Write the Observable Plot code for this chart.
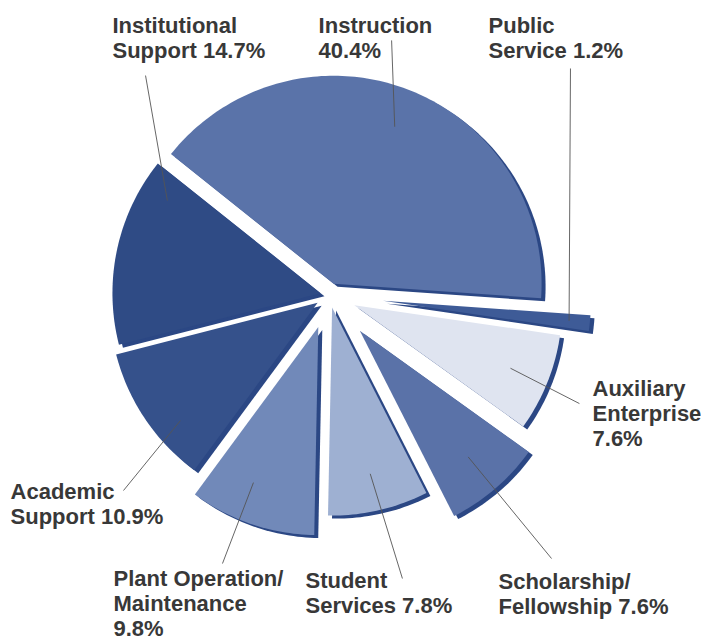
<!DOCTYPE html>
<html>
<head>
<meta charset="utf-8">
<script src="https://cdn.jsdelivr.net/npm/d3@7"></script>
<script src="https://cdn.jsdelivr.net/npm/@observablehq/plot@0.6"></script>
<style>
  html, body { margin: 0; padding: 0; background: #fff; }
  #chart svg { display: block; }
</style>
</head>
<body>
<div id="chart"></div>
<script>
// Expenditures by function, share of total (%), clockwise from the top
const categories = [
  "Instruction", "Public Service", "Auxiliary Enterprise", "Scholarship/Fellowship",
  "Student Services", "Plant Operation/Maintenance", "Academic Support", "Institutional Support"
];
const shares = [40.4, 1.2, 7.6, 7.6, 7.8, 9.8, 10.9, 14.7];
// Label lines; the share is appended to the last line
const labelLines = [
  ["Instruction", ""],
  ["Public", "Service"],
  ["Auxiliary", "Enterprise", ""],
  ["Scholarship/", "Fellowship"],
  ["Student", "Services"],
  ["Plant Operation/", "Maintenance", ""],
  ["Academic", "Support"],
  ["Institutional", "Support"]
];

// ---- styling & layout (radius units: the pie radius is 1) ----
const W = 701, H = 640;
const R = 208, cx = 328.7, cy = 294.5;           // pie radius and centre in pixels
const fills = ["#5a73a9", "#3e5b97", "#dfe4f0", "#5a72a8", "#9eb0d2", "#7189b9", "#35518b", "#2f4b85"];
const shadowColor = "#2b4784";
const pull = [0.058, 0.26, 0.13, 0.226, 0.062, 0.163, 0.067, 0.043]; // explode distance per slice
const leaderAt = [0.5, 0.5, 0.5, 0.5, 0.5, 0.61, 0.33, 0.86];        // position across the slice
const leaderR = [0.81, 0.9, 0.81, 0.8, 0.82, 0.81, 0.87, 0.86];       // distance from the slice tip
const labelPos = [[-0.051, 1.344], [0.766, 1.344], [1.266, -0.401], [0.814, -1.329],
                  [-0.114, -1.325], [-1.037, -1.315], [-1.532, -0.897], [-1.042, 1.344]];
const leaderEnd = [[0.300, 1.224], [1.160, 1.089], [1.203, -0.522], [1.069, -1.267],
                   [0.352, -1.363], [-0.513, -1.291], [-0.989, -0.940], [-0.883, 1.055]];

// Instruction ends just past three o'clock; angles run clockwise from twelve
const endOfFirst = 94 * Math.PI / 180;
const start = endOfFirst - (shares[0] / 100) * 2 * Math.PI;
const arcs = d3.pie().sort(null).value(d => d).startAngle(start).endAngle(start + 2 * Math.PI)(shares);

const polar = (a, r) => [Math.sin(a) * r, Math.cos(a) * r];

const slices = arcs.map((a, i) => {
  const mid = (a.startAngle + a.endAngle) / 2;
  const [ox, oy] = polar(mid, pull[i]);
  const pts = [{x: ox, y: oy}];
  const n = Math.max(4, Math.ceil((a.endAngle - a.startAngle) / 0.02));
  for (let k = 0; k <= n; k++) {
    const t = a.startAngle + (a.endAngle - a.startAngle) * k / n;
    const [px, py] = polar(t, 1);
    pts.push({x: ox + px, y: oy + py});
  }
  pts.push({x: ox, y: oy});
  const la = a.startAngle + (a.endAngle - a.startAngle) * leaderAt[i];
  const [lx, ly] = polar(la, leaderR[i]);
  return {
    name: categories[i], pts, fill: fills[i],
    leader: {x1: ox + lx, y1: oy + ly, x2: leaderEnd[i][0], y2: leaderEnd[i][1]}
  };
});

const labels = labelLines.map((lines, i) => {
  const value = shares[i].toFixed(1) + "%";
  const last = lines[lines.length - 1];
  const text = [...lines.slice(0, -1), last ? last + " " + value : value].join("\n");
  return {x: labelPos[i][0], y: labelPos[i][1], text};
});

const marks = [];
// extruded edge under every slice
for (const s of slices) {
  marks.push(Plot.line(s.pts, {x: "x", y: "y", fill: shadowColor, stroke: "none", dx: 4, dy: 3, curve: "linear"}));
}
// slice faces
for (const s of slices) {
  marks.push(Plot.line(s.pts, {x: "x", y: "y", fill: s.fill, stroke: "none", curve: "linear", title: () => s.name}));
}
// leader lines
marks.push(Plot.link(slices.map(s => s.leader), {
  x1: "x1", y1: "y1", x2: "x2", y2: "y2", stroke: "#555", strokeWidth: 0.9
}));
// labels
marks.push(Plot.text(labels, {
  x: "x", y: "y", text: "text", textAnchor: "start", lineAnchor: "top", lineHeight: 1.14,
  fontSize: 22, fontWeight: 700, fontFamily: "'Liberation Sans', Arial, sans-serif", fill: "#383838"
}));

const chart = Plot.plot({
  width: W, height: H, margin: 0,
  x: {domain: [-cx / R, (W - cx) / R], axis: null},
  y: {domain: [-(H - cy) / R, cy / R], axis: null},
  style: {background: "#fff"},
  marks
});
document.getElementById("chart").append(chart);
</script>
</body>
</html>
